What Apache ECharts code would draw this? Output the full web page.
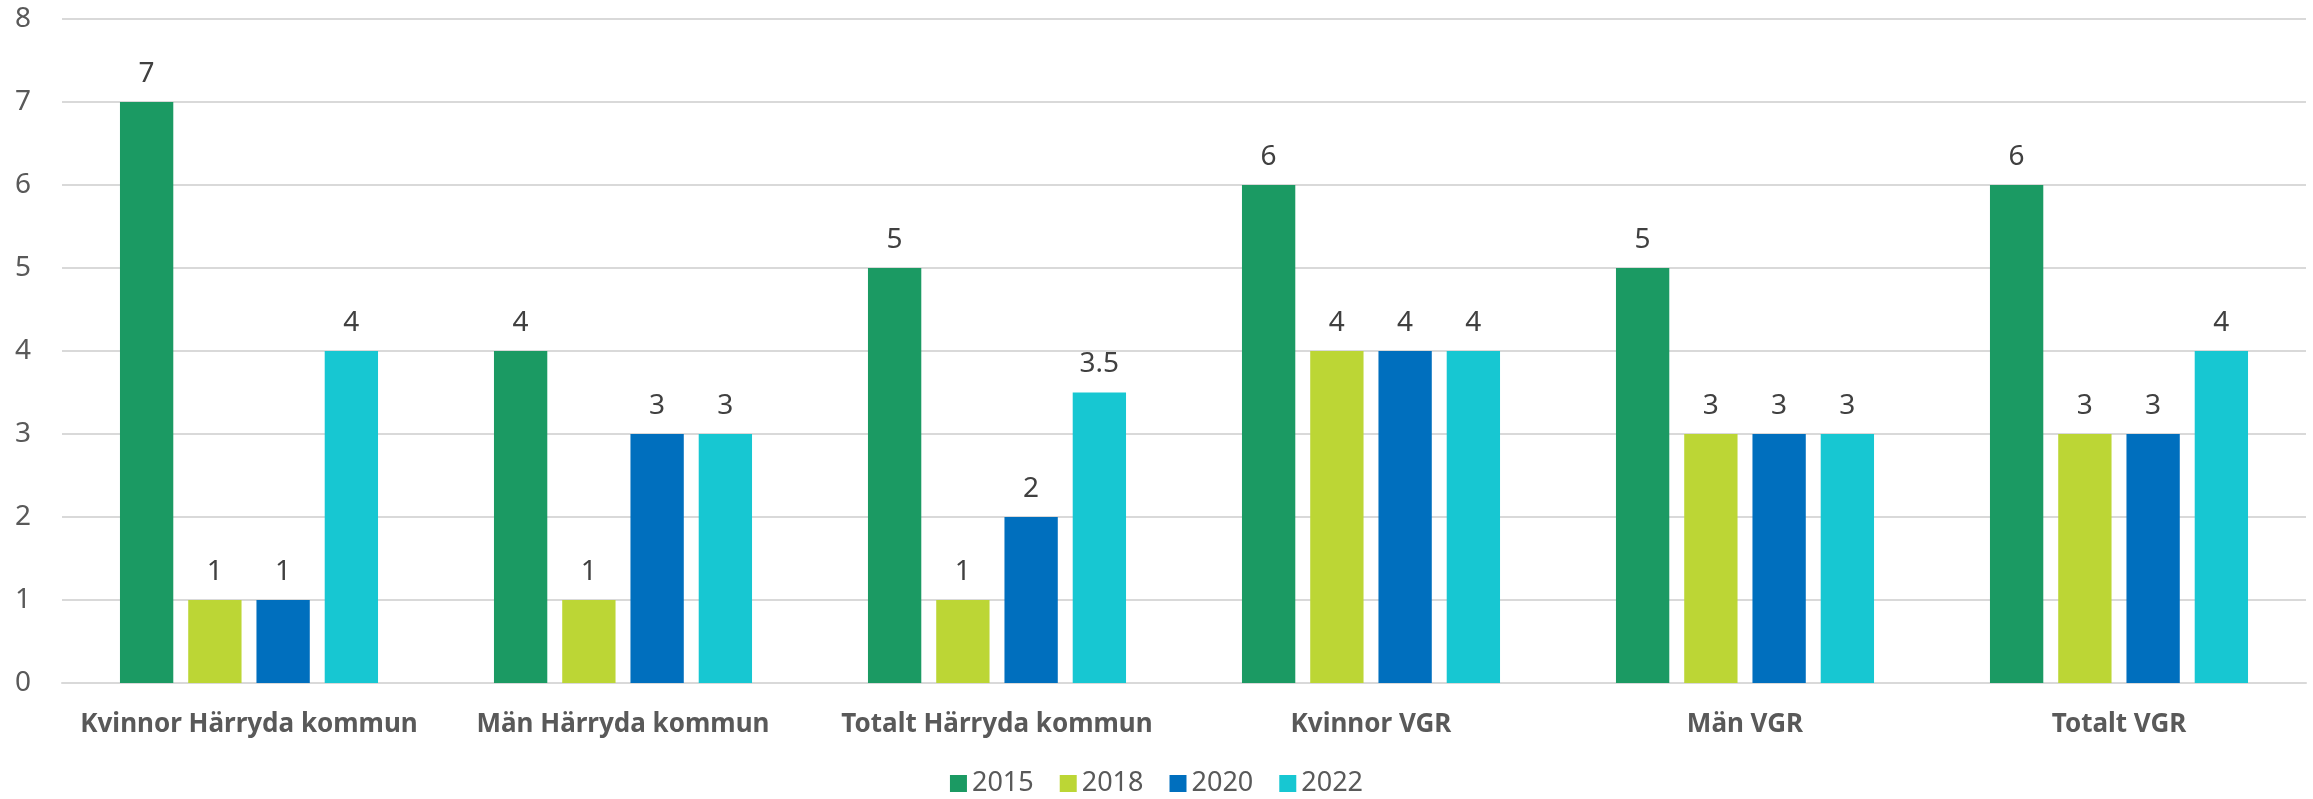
<!DOCTYPE html>
<html>
<head>
<meta charset="utf-8">
<script src="https://cdn.jsdelivr.net/npm/echarts@6/dist/echarts.min.js"></script>
<style>
  html, body { margin: 0; padding: 0; background: #fff; }
  #main { width: 2313px; height: 799px; }
</style>
</head>
<body>
<div id="main"></div>
<script>
const categories = [
  "Kvinnor Härryda kommun",
  "Män Härryda kommun",
  "Totalt Härryda kommun",
  "Kvinnor VGR",
  "Män VGR",
  "Totalt VGR"
];
const years = ["2015", "2018", "2020", "2022"];
const values2015 = [7, 4, 5, 6, 5, 6];
const values2018 = [1, 1, 1, 4, 3, 3];
const values2020 = [1, 3, 2, 4, 3, 3];
const values2022 = [4, 3, 3.5, 4, 3, 4];
const colors = ["#1B9A63", "#BCD635", "#006FBE", "#17C7D2"];

const font = "'Noto Sans', 'Open Sans', sans-serif";
const seriesValues = [values2015, values2018, values2020, values2022];

const seriesList = years.map((y, i) => ({
  name: y,
  type: "bar",
  data: seriesValues[i],
  barGap: "28%",
  barCategoryGap: "31%",
  itemStyle: { color: colors[i] },
  label: {
    show: true,
    position: "top",
    distance: 14,
    color: "#404040",
    fontSize: 28,
    fontFamily: font
  }
}));

const option = {
  animation: false,
  backgroundColor: "#fff",
  color: colors,
  grid: { left: 62, right: 7, top: 19, bottom: 116 },
  legend: {
    bottom: -3,
    left: "center",
    itemWidth: 17,
    itemHeight: 17,
    itemGap: 26,
    icon: "rect",
    textStyle: { color: "#595959", fontSize: 27, fontFamily: font }
  },
  xAxis: {
    type: "category",
    data: categories,
    axisTick: { show: false },
    axisLine: { lineStyle: { color: "#D9D9D9", width: 2 } },
    axisLabel: {
      interval: 0,
      color: "#595959",
      fontSize: 26,
      fontWeight: "bold",
      fontFamily: font,
      margin: 29
    }
  },
  yAxis: {
    type: "value",
    min: 0,
    max: 8,
    interval: 1,
    axisLine: { show: false },
    axisTick: { show: false },
    splitLine: { lineStyle: { color: "#D9D9D9", width: 2 } },
    axisLabel: {
      color: "#595959",
      fontSize: 28,
      fontFamily: font,
      margin: 31
    }
  },
  series: seriesList
};

const chart = echarts.init(document.getElementById("main"));
chart.setOption(option);
</script>
</body>
</html>
